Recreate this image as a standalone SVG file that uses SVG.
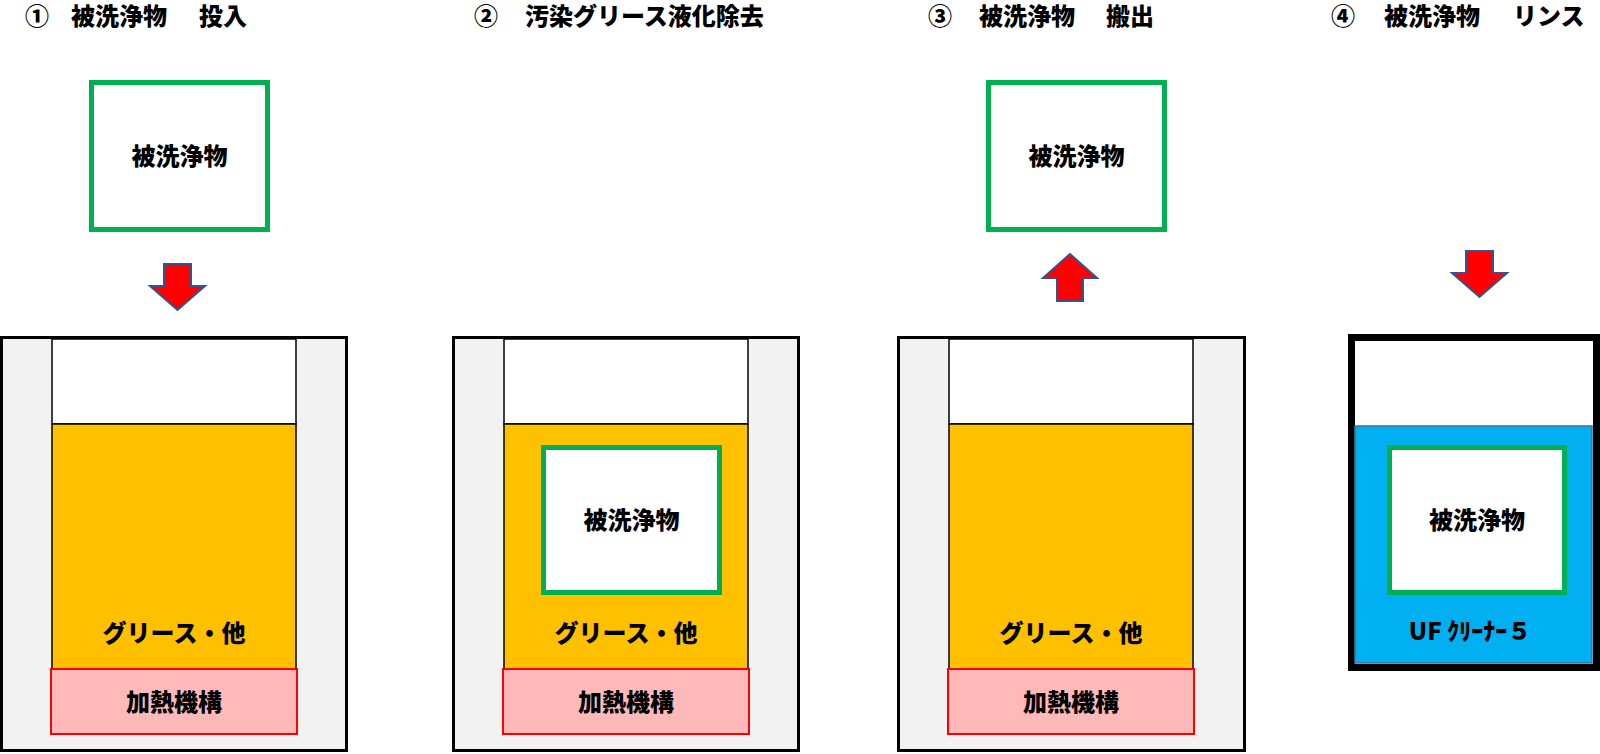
<svg xmlns="http://www.w3.org/2000/svg" width="1600" height="754" viewBox="0 0 1600 754">
<style>
  text { font-family: "Noto Sans CJK JP", "Noto Sans", sans-serif; font-weight: 900; font-size: 24px; fill: #000; }
  .c { text-anchor: middle; }
  .outer { fill: #F2F2F2; stroke: #000; stroke-width: 3; }
  .empty { fill: #FFFFFF; stroke: #000; stroke-width: 1.5; }
  .grease { fill: #FFC000; stroke: #000; stroke-width: 1.5; }
  .heater { fill: #FFB9B9; stroke: #FF0000; stroke-width: 2; }
  .work { fill: #FFFFFF; stroke: #00B050; stroke-width: 5; }
  .arrow { fill: #FF0000; stroke: #2F5597; stroke-width: 2; stroke-linejoin: miter; }
  .tank4 { fill: #FFFFFF; stroke: #000; stroke-width: 7; }
  .rinse { fill: #00B0F0; stroke: #41719C; stroke-width: 1.5; }
</style>
<rect width="1600" height="754" fill="#FFFFFF"/>

<g id="titles">
  <text x="25" y="25">①</text><text x="71" y="25">被洗浄物</text><text x="199" y="25">投入</text>
  <text x="474" y="25">②</text><text x="525" y="25">汚染グリース液化除去</text>
  <text x="928" y="25">③</text><text x="979" y="25">被洗浄物</text><text x="1106" y="25">搬出</text>
  <text x="1331" y="25">④</text><text x="1384" y="25">被洗浄物</text><text x="1513" y="25">リンス</text>
</g>

<g id="step1-work">
  <rect class="work" x="91.5" y="82.5" width="176" height="147"/>
  <text class="c" x="179.5" y="165">被洗浄物</text>
</g>

<g id="step1-tank">
  <rect class="outer" x="1.5" y="337.5" width="345" height="413"/>
  <rect class="empty" x="52" y="339" width="244" height="85"/>
  <rect class="grease" x="52" y="424" width="244" height="245"/>
  <text class="c" x="174" y="642">グリース・他</text>
  <rect class="heater" x="51" y="669" width="246" height="65"/>
  <text class="c" x="174" y="711">加熱機構</text>
</g>

<g id="step2-tank">
  <rect class="outer" x="453.5" y="337.5" width="345" height="413"/>
  <rect class="empty" x="504" y="339" width="244" height="85"/>
  <rect class="grease" x="504" y="424" width="244" height="245"/>
  <text class="c" x="626" y="642">グリース・他</text>
  <rect class="heater" x="503" y="669" width="246" height="65"/>
  <text class="c" x="626" y="711">加熱機構</text>
</g>

<g id="step2-work">
  <rect class="work" x="543.5" y="447.5" width="176" height="145"/>
  <text class="c" x="631.5" y="529">被洗浄物</text>
</g>

<g id="step3-work">
  <rect class="work" x="988.5" y="82.5" width="176" height="147"/>
  <text class="c" x="1076.5" y="165">被洗浄物</text>
</g>

<g id="step3-tank">
  <rect class="outer" x="898.5" y="337.5" width="346" height="413"/>
  <rect class="empty" x="949" y="339" width="244" height="85"/>
  <rect class="grease" x="949" y="424" width="244" height="245"/>
  <text class="c" x="1071" y="642">グリース・他</text>
  <rect class="heater" x="948" y="669" width="246" height="65"/>
  <text class="c" x="1071" y="711">加熱機構</text>
</g>

<g id="step4-tank">
  <rect class="tank4" x="1351.5" y="337.5" width="245" height="330"/>
  <rect class="rinse" x="1355" y="426" width="237" height="237"/>
  <text class="c" x="1470" y="640">UF ｸﾘｰﾅｰ５</text>
</g>

<g id="step4-work">
  <rect class="work" x="1389.5" y="447.5" width="175" height="145"/>
  <text class="c" x="1477" y="529">被洗浄物</text>
</g>

<g id="connectors">
  <polygon class="arrow" points="164,264 191,264 191,286 205,286 177.5,310 150,286 164,286"/>
  <polygon class="arrow" points="1057,301 1083,301 1083,278 1097,278 1070,254 1043,278 1057,278"/>
  <polygon class="arrow" points="1466,251 1493,251 1493,273 1507,273 1479.5,297 1452,273 1466,273"/>
</g>
</svg>
